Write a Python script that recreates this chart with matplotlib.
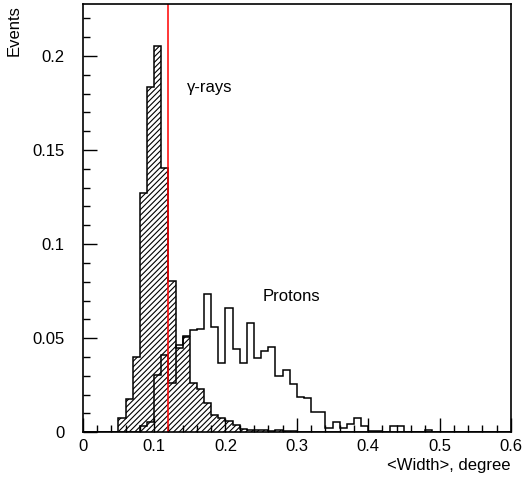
import numpy as np
import matplotlib
matplotlib.use('Agg')
import matplotlib.pyplot as plt
from matplotlib.ticker import MultipleLocator

plt.rcParams['font.family'] = ['Liberation Sans', 'DejaVu Sans']
plt.rcParams['hatch.linewidth'] = 0.8

# bin edges: 60 bins of 0.01 from 0 to 0.6
edges = np.round(np.arange(0, 0.6001, 0.01), 3)

# gamma-ray <Width> distribution (normalised)
gammas = [0, 0, 0, 0, 0, 0.0073, 0.0179, 0.0400, 0.1273, 0.1834,
          0.2053, 0.1406, 0.0805, 0.0450, 0.0507, 0.0262, 0.0232, 0.0155, 0.0092, 0.0073,
          0.0058, 0.0037, 0.0018, 0.0014, 0.0010, 0.0012, 0.0006, 0.0010, 0.0005, 0.0005,
          0.0003, 0, 0.0003, 0, 0, 0, 0, 0, 0, 0,
          0, 0, 0, 0, 0, 0, 0, 0, 0, 0,
          0, 0, 0, 0, 0, 0, 0, 0, 0, 0]

# proton <Width> distribution (normalised)
protons = [0, 0, 0, 0, 0, 0, 0, 0, 0.0035, 0.0055,
           0.0303, 0.0410, 0.0260, 0.0465, 0.0510, 0.0543, 0.0551, 0.0734, 0.0560, 0.0369,
           0.0658, 0.0440, 0.0369, 0.0581, 0.0392, 0.0431, 0.0454, 0.0298, 0.0333, 0.0255,
           0.0185, 0.0182, 0.0108, 0.0106, 0.0020, 0.0055, 0.0020, 0.0041, 0.0073, 0.0032,
           0.0007, 0.0005, 0, 0.0032, 0.0032, 0, 0, 0, 0.0010, 0,
           0, 0, 0, 0, 0, 0, 0, 0, 0, 0]

cut = 0.12

fig = plt.figure(figsize=(5.24, 4.90), dpi=100)
ax = fig.add_axes([0.158, 0.118, 0.817, 0.874])

# hatched gamma histogram
ax.stairs(gammas, edges, baseline=0, fill=True, hatch='//////',
          facecolor='none', edgecolor='black', linewidth=0)
ax.stairs(gammas, edges, baseline=0, color='black', linewidth=1.1)
# open proton histogram
ax.stairs(protons, edges, baseline=0, color='black', linewidth=1.1)

ax.axvline(cut, color='red', linewidth=1.1)

ax.set_xlim(0, 0.6)
ax.set_ylim(0, 0.2277)

ax.xaxis.set_major_locator(MultipleLocator(0.1))
ax.xaxis.set_minor_locator(MultipleLocator(0.02))
ax.yaxis.set_major_locator(MultipleLocator(0.05))
ax.yaxis.set_minor_locator(MultipleLocator(0.01))
ax.xaxis.set_major_formatter(lambda v, p: '0' if abs(v) < 1e-9 else ('%g' % round(v, 2)))
ax.yaxis.set_major_formatter(lambda v, p: '0' if abs(v) < 1e-9 else ('%g' % round(v, 3)))

ax.tick_params(which='both', direction='in', top=False, right=False, width=1, labelsize=12)
ax.tick_params(which='major', length=10)
ax.tick_params(which='minor', length=5)
ax.tick_params(axis='x', pad=5)
ax.tick_params(axis='y', pad=13)
for s in ax.spines.values():
    s.set_linewidth(1.2)

ax.text(0.146, 0.181, 'γ-rays', fontsize=12, ha='left', va='baseline')
ax.text(0.252, 0.0698, 'Protons', fontsize=12, ha='left', va='baseline')

fig.text(0.027, 0.99, 'Events', rotation=90, ha='center', va='top', fontsize=12)
fig.text(0.974, 0.041, '<Width>, degree', ha='right', va='baseline', fontsize=12)

fig.savefig('out.png', dpi=100)
